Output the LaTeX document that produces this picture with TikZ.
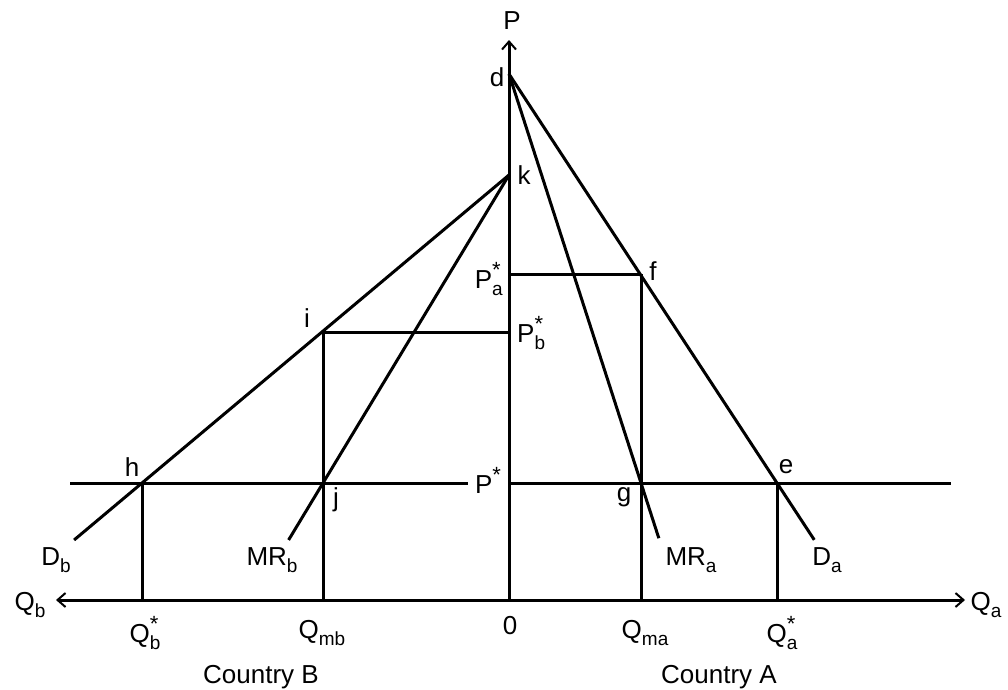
\documentclass[tikz,border=0pt]{standalone}
\usepackage{fontspec}
\setmainfont{Liberation Sans}
\usetikzlibrary{calc,arrows.meta}
\newcommand{\sbs}[1]{\raisebox{-0.28em}{\fontsize{19}{19}\selectfont #1}}
\newcommand{\sst}[1]{\rlap{\raisebox{0.42em}{\fontsize{22}{22}\selectfont *}}\raisebox{-0.28em}{\fontsize{19}{19}\selectfont #1}}
\tikzset{
  lbl/.style={inner sep=0pt, font=\fontsize{26}{30}\selectfont},
  ln/.style={line width=3pt},
  ax/.style={line width=3pt, -{Straight Barb[length=8pt,width=14pt,line width=2pt]}}
}
\begin{document}
\begin{tikzpicture}[x=1pt,y=-1pt]
\useasboundingbox (0,0) rectangle (1008,689);
% points
\coordinate (O) at (509,600);
\coordinate (Ptip) at (509,40);
\coordinate (Qbtip) at (56,600);
\coordinate (Qatip) at (965,600);
\coordinate (d) at (509,74);
\coordinate (k) at (509,175);
\coordinate (f) at (641,274);
\coordinate (e) at (777,483);
\coordinate (g) at (641,483);
\coordinate (h) at (142,483);
\coordinate (i) at (323,332);
\coordinate (j) at (323,483);
\coordinate (pa) at (509,274);
\coordinate (pb) at (509,332);
\coordinate (ps) at (509,483);
\coordinate (psL) at (70,483);
\coordinate (psM) at (468,483);
\coordinate (psR) at (951,483);
\coordinate (qbs) at (142,600);
\coordinate (qmb) at (323,600);
\coordinate (qma) at (641,600);
\coordinate (qas) at (777,600);
% axes
\draw[ax] (O) -- (Ptip);
\draw[ax] (O) -- (Qbtip);
\draw[ax] (O) -- (Qatip);
% curves
\draw[ln] (d) -- ($(d)!1.139!(e)$);
\draw[ln] (d) -- ($(d)!1.135!(g)$);
\draw[ln] (k) -- ($(k)!1.185!(h)$);
\draw[ln] (k) -- ($(k)!1.185!(j)$);
% price lines
\draw[ln] (pa) -- (f);
\draw[ln] (i) -- (pb);
\draw[ln] (psL) -- (psM);
\draw[ln] (ps) -- (psR);
% verticals
\draw[ln] (f) -- (qma);
\draw[ln] (i) -- (qmb);
\draw[ln] (h) -- (qbs);
\draw[ln] (e) -- (qas);
% labels
\node[lbl] (lP) at (512,21) {P};
\node[lbl] (ld) at (497,77) {d};
\node[lbl] (lk) at (524,175) {k};
\node[lbl, anchor=east] (lPa) at (503,279) {P\sst{a}};
\node[lbl] (lf) at (653,271) {f};
\node[lbl] (li) at (307,318) {i};
\node[lbl, anchor=west] (lPb) at (517,333) {P\sst{b}};
\node[lbl] (lh) at (132,467) {h};
\node[lbl] (le) at (786,467) {e};
\node[lbl] (lPs) at (488,480) {P\raisebox{0.42em}{\fontsize{22}{22}\selectfont *}};
\node[lbl] (lj) at (336,500) {j};
\node[lbl] (lg) at (624,497) {g};
\node[lbl] (lDb) at (56,560) {D\sbs{b}};
\node[lbl] (lMRb) at (272,560) {MR\sbs{b}};
\node[lbl] (lMRa) at (691,560) {MR\sbs{a}};
\node[lbl] (lDa) at (827,560) {D\sbs{a}};
\node[lbl] (lQb) at (30,605) {Q\sbs{b}};
\node[lbl] (lQa) at (986,605) {Q\sbs{a}};
\node[lbl] (lQbs) at (145,633) {Q\sst{b}};
\node[lbl] (lQmb) at (322,633) {Q\sbs{mb}};
\node[lbl] (l0) at (510,626) {0};
\node[lbl] (lQma) at (645,633) {Q\sbs{ma}};
\node[lbl] (lQas) at (782,633) {Q\sst{a}};
\node[lbl] (lCB) at (261,677) {Country B};
\node[lbl] (lCA) at (719,677) {Country A};
\end{tikzpicture}
\end{document}
